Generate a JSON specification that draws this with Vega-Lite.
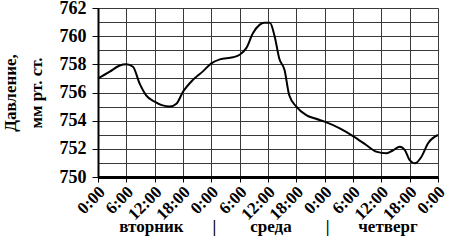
{
  "$schema": "https://vega.github.io/schema/vega-lite/v6.json",
  "autosize": {"type": "none"},
  "width": 340,
  "height": 169,
  "padding": {"left": 98, "top": 8, "right": 11, "bottom": 64},
  "background": "white",
  "config": {
    "view": {"stroke": null}
  },
  "layer": [
    {
      "data": {"values": [
        {"h": 0, "p": 757.0},
        {"h": 2.5, "p": 757.48},
        {"h": 4.5, "p": 757.9},
        {"h": 6, "p": 758.0},
        {"h": 7.4, "p": 757.83},
        {"h": 8.8, "p": 756.65},
        {"h": 10.2, "p": 755.8},
        {"h": 12, "p": 755.35},
        {"h": 13.5, "p": 755.1},
        {"h": 15.2, "p": 755.0},
        {"h": 16.6, "p": 755.2},
        {"h": 18, "p": 756.05},
        {"h": 20.1, "p": 756.9},
        {"h": 22.2, "p": 757.5},
        {"h": 24, "p": 758.07},
        {"h": 25.8, "p": 758.35},
        {"h": 28.6, "p": 758.5},
        {"h": 30, "p": 758.68},
        {"h": 31.4, "p": 759.15},
        {"h": 32.8, "p": 760.2},
        {"h": 34.2, "p": 760.8},
        {"h": 35.2, "p": 760.95},
        {"h": 36.4, "p": 760.95},
        {"h": 37.4, "p": 760.0},
        {"h": 38.4, "p": 758.4},
        {"h": 39.5, "p": 757.6},
        {"h": 40.5, "p": 755.8},
        {"h": 42, "p": 755.0},
        {"h": 44.1, "p": 754.4},
        {"h": 46, "p": 754.15},
        {"h": 48, "p": 753.93},
        {"h": 51.2, "p": 753.45},
        {"h": 54, "p": 752.9},
        {"h": 56.8, "p": 752.27},
        {"h": 58.9, "p": 751.8},
        {"h": 61.1, "p": 751.68},
        {"h": 62.5, "p": 751.9},
        {"h": 63.9, "p": 752.15},
        {"h": 65, "p": 751.9},
        {"h": 66, "p": 751.2},
        {"h": 67.1, "p": 750.97},
        {"h": 68.5, "p": 751.44},
        {"h": 69.9, "p": 752.4},
        {"h": 72, "p": 752.98}
      ]},
      "mark": {"type": "line", "color": "black", "strokeWidth": 2, "interpolate": "monotone"},
      "encoding": {
        "x": {
          "field": "h", "type": "quantitative",
          "scale": {"domain": [0, 72], "nice": false},
          "axis": {
            "values": [0, 6, 12, 18, 24, 30, 36, 42, 48, 54, 60, 66, 72],
            "labelExpr": "(datum.value % 24) + ':00'",
            "labelFont": "Liberation Serif",
            "labelFontWeight": "bold",
            "labelFontSize": 17,
            "labelColor": "black",
            "labelAngle": -45,
            "labelAlign": "right",
            "labelBaseline": "middle",
            "labelPadding": 7,
            "labelOffset": 4,
            "labelOverlap": false,
            "labelFlush": false,
            "tickSize": 5,
            "tickWidth": 1,
            "tickColor": "black",
            "domainWidth": 3,
            "domainColor": "black",
            "grid": true,
            "gridColor": "#3a3a3a",
            "gridOpacity": 1,
            "gridWidth": 1,
            "title": ["вторник\u00a0\u00a0\u00a0\u00a0\u00a0\u00a0\u2009|\u00a0\u00a0\u00a0\u00a0\u00a0\u00a0\u00a0\u00a0среда\u00a0\u00a0\u00a0\u00a0\u00a0\u00a0\u00a0\u00a0|\u00a0\u00a0\u00a0\u00a0\u00a0\u00a0\u2009четверг\u00a0\u00a0"],
            "titleFont": "Liberation Serif",
            "titleFontWeight": "bold",
            "titleFontSize": 17,
            "titleColor": "black",
            "titlePadding": -4
          }
        },
        "y": {
          "field": "p", "type": "quantitative",
          "scale": {"domain": [750, 762], "nice": false, "zero": false},
          "axis": {
            "values": [750, 751, 752, 753, 754, 755, 756, 757, 758, 759, 760, 761, 762],
            "labelExpr": "datum.value % 2 == 0 ? datum.label : ''",
            "labelFont": "Liberation Serif",
            "labelFontWeight": "bold",
            "labelFontSize": 18,
            "labelColor": "black",
            "labelOverlap": false,
            "labelFlush": false,
            "tickOpacity": {"condition": {"test": "datum.value % 2 == 0", "value": 1}, "value": 0},
            "tickSize": 6,
            "tickWidth": 1,
            "tickColor": "black",
            "domainWidth": 2,
            "domainColor": "black",
            "labelPadding": 6,
            "grid": true,
            "gridColor": "#3a3a3a",
            "gridOpacity": 1,
            "gridWidth": 1,
            "title": ["Давление,", "мм рт. ст."],
            "titleFont": "Liberation Serif",
            "titleFontWeight": "bold",
            "titleFontSize": 17,
            "titleColor": "black",
            "titleLineHeight": 26,
            "titlePadding": 14
          }
        }
      }
    }
  ]
}
